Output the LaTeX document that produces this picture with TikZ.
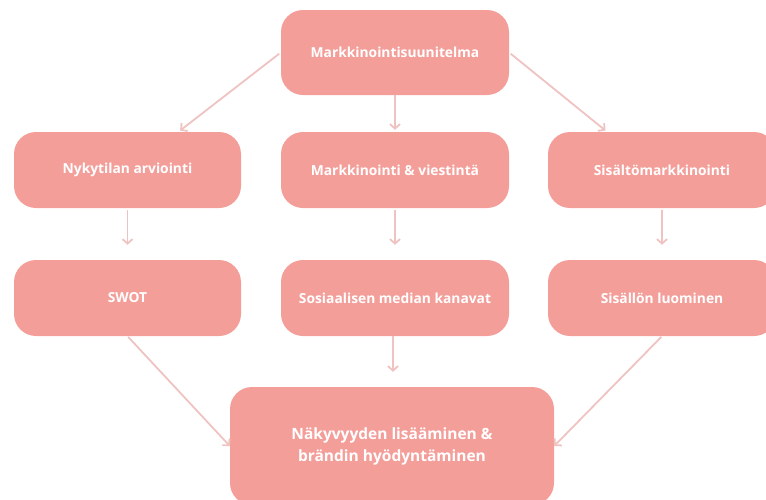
\documentclass[tikz,border=0pt]{standalone}
\usepackage{fontspec}
\setmainfont{Open Sans}
\usetikzlibrary{arrows.meta}
\definecolor{boxpink}{HTML}{F49E9A}
\definecolor{linepink}{HTML}{EFC3C1}
\tikzset{
  boxnode/.style={fill=boxpink, rounded corners=22pt, text=white, inner sep=0pt,
    align=center, minimum width=228pt, minimum height=76pt,
    font=\bfseries\fontsize{13.8}{22}\selectfont},
  conn/.style={draw=linepink, line width=1.8pt, -{Straight Barb[length=4.5pt,width=10pt]}}
}
\begin{document}
\begin{tikzpicture}[x=1pt,y=-1pt]
	\useasboundingbox (0,0) rectangle (766,499);
	\clip (0,0) rectangle (766,499);
	
	\node [boxnode, minimum height=85pt] (plan) at (395,52.5) {Markkinointisuunitelma};
	\node [boxnode, minimum width=227pt] (nykytila) at (127.5,170) {Nykytilan arviointi};
	\node [boxnode] (viestinta) at (395,170) {Markkinointi \& viestintä};
	\node [boxnode] (sisalto) at (662,170) {Sisältömarkkinointi};
	\node [boxnode, minimum width=227pt] (swot) at (127.5,298) {SWOT};
	\node [boxnode] (some) at (395,298) {Sosiaalisen median kanavat};
	\node [boxnode] (luominen) at (662,298) {Sisällön luominen};
	\node [boxnode, minimum width=324pt, minimum height=118pt, font=\bfseries\fontsize{15.5}{22}\selectfont] (nakyvyys) at (392,446) {Näkyvyyden lisääminen \&\\ brändin hyödyntäminen};
	
	\draw [conn, shorten <=2pt, shorten >=2pt] (plan.west) -- ([xshift=51pt]nykytila.north);
	\draw [conn, shorten >=2pt] (plan.south) -- (viestinta.north);
	\draw [conn, shorten <=2pt, shorten >=2pt] (plan.east) -- ([xshift=-55pt]sisalto.north);
	
	\draw [conn, shorten <=2pt, shorten >=15pt] (nykytila.south) -- (swot.north);
	\draw [conn, shorten <=2pt, shorten >=15pt] (viestinta.south) -- (some.north);
	\draw [conn, shorten <=2pt, shorten >=15pt] (sisalto.south) -- (luominen.north);
	
	\draw [conn, shorten <=1pt] (swot.south) -- (nakyvyys.west);
	\draw [conn, shorten >=15pt] ([xshift=-2pt]some.south) -- ([xshift=-2pt]some.south |- nakyvyys.north);
	\draw [conn, shorten <=1pt] (luominen.south) -- (nakyvyys.east);
\end{tikzpicture}
\end{document}
